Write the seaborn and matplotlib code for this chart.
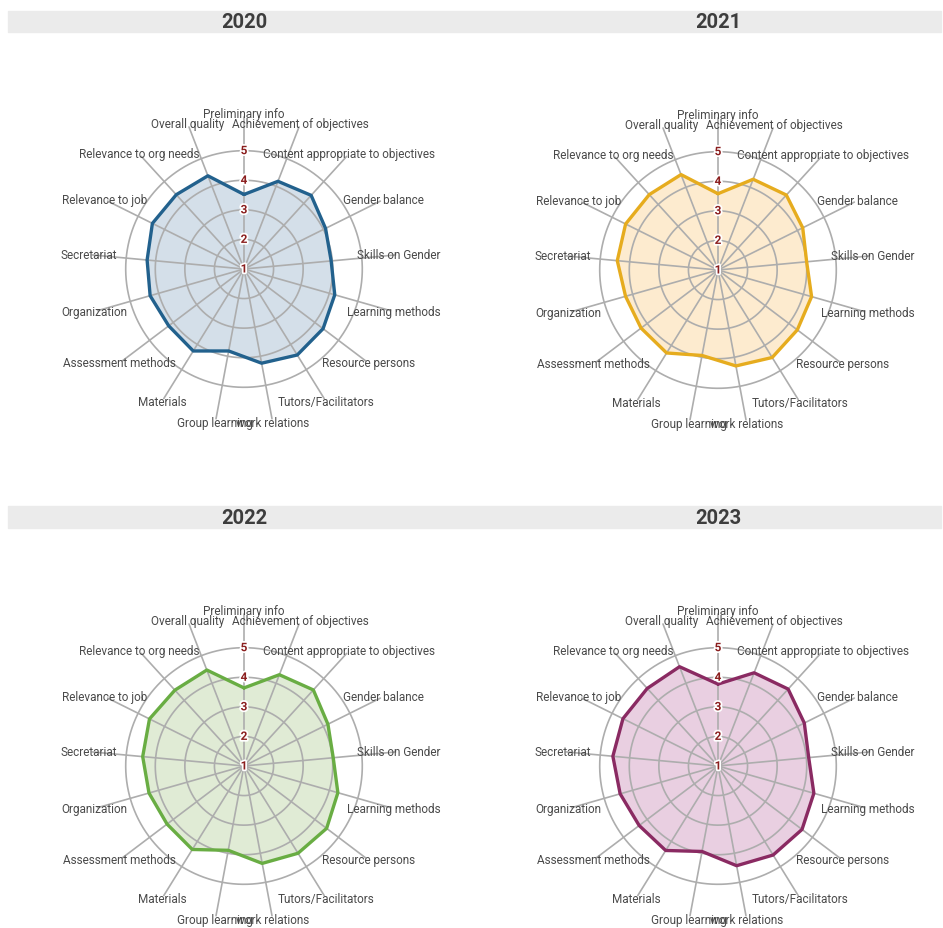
import numpy as np
import pandas as pd
import matplotlib
matplotlib.use('Agg')
import matplotlib.pyplot as plt
import matplotlib.patheffects as pe
from matplotlib.patches import Rectangle
import seaborn as sns

categories = ['Preliminary info', 'Achievement of objectives', 'Content appropriate to objectives',
              'Gender balance', 'Skills on Gender', 'Learning methods', 'Resource persons',
              'Tutors/Facilitators', 'work relations', 'Group learning', 'Materials',
              'Assessment methods', 'Organization', 'Secretariat', 'Relevance to job',
              'Relevance to org needs', 'Overall quality']

years = ['2020', '2021', '2022', '2023']
scores_2020 = [3.52, 4.18, 4.37, 4.08, 3.96, 4.19, 4.35, 4.42, 4.24, 3.82, 4.26, 4.19, 4.30, 4.29, 4.46, 4.40, 4.38]
scores_2021 = [3.58, 4.29, 4.43, 4.20, 4.01, 4.29, 4.36, 4.48, 4.30, 3.94, 4.30, 4.26, 4.25, 4.42, 4.49, 4.45, 4.46]
scores_2022 = [3.64, 4.31, 4.48, 4.17, 4.03, 4.30, 4.50, 4.47, 4.35, 3.90, 4.32, 4.26, 4.34, 4.44, 4.57, 4.47, 4.48]
scores_2023 = [3.77, 4.38, 4.52, 4.26, 4.08, 4.37, 4.56, 4.54, 4.43, 3.94, 4.36, 4.34, 4.44, 4.57, 4.59, 4.55, 4.60]
ring_values = [1, 2, 3, 4, 5]

line_colors = ['#22618d', '#e6ac1e', '#69ad43', '#8a2a62']
fill_colors = ['#d4dfe9', '#fdebcf', '#e0ebd5', '#e9cfe1']

sns.set_theme(style='white')
plt.rcParams['font.family'] = ['Roboto', 'DejaVu Sans']

fig = plt.figure(figsize=(9.43, 9.29), dpi=100)
W, H = 943, 929

# grey strip bands behind the year titles
for y0, y1 in [(12, 33), (507, 529)]:
    fig.patches.append(Rectangle((8 / W, 1 - y1 / H), (941 - 8) / W, (y1 - y0) / H,
                                 transform=fig.transFigure, color='#ebebeb', zorder=0))

centers = [(244, 270), (718, 271), (244, 767), (718, 767)]
title_y = [22, 22, 518, 518]
R = 118.3  # pixel radius of ring 5

all_scores = [scores_2020, scores_2021, scores_2022, scores_2023]
n = len(categories)
theta = np.arange(n) * 2 * np.pi / n
grid_col = '#adadad'

for k, year in enumerate(years):
    cx, cy = centers[k]
    ax = fig.add_axes([(cx - R) / W, 1 - (cy + R) / H, 2 * R / W, 2 * R / H], projection='polar')
    ax.set_theta_zero_location('N')
    ax.set_theta_direction(-1)
    ax.set_ylim(1, 5)
    ax.grid(False)
    ax.spines['polar'].set_visible(False)
    ax.patch.set_alpha(0)

    df = pd.DataFrame({'theta': np.append(theta, theta[0]),
                       'score': all_scores[k] + [all_scores[k][0]]})
    ax.fill(df['theta'], df['score'], color=fill_colors[k], zorder=1, lw=0)

    # circles and spokes
    tt = np.linspace(0, 2 * np.pi, 300)
    for v in ring_values[1:]:
        ax.plot(tt, np.full_like(tt, v), color=grid_col, lw=1.2, zorder=2, clip_on=False)
    for th in theta:
        ax.plot([th, th], [1, 6.15], color=grid_col, lw=1.2, zorder=2, clip_on=False)

    sns.lineplot(data=df, x='theta', y='score', ax=ax, sort=False, estimator=None,
                 color=line_colors[k], lw=2.4, zorder=3)
    ax.set_xlabel('')
    ax.set_ylabel('')
    ax.set_xticks([])
    ax.set_yticks([])
    ax.set_ylim(1, 5)

    for v in ring_values:
        ax.text(0, v, str(v), color='#8b1f1f', fontsize=8.5, fontweight='bold',
                ha='center', va='center', zorder=4,
                path_effects=[pe.withStroke(linewidth=2.5, foreground='white')])

    for th, lab in zip(theta, categories):
        ax.text(th, 6.27, lab, color='#4a4a4a', fontsize=8.5, ha='center', va='center',
                zorder=5, clip_on=False)

    fig.text(cx / W, 1 - title_y[k] / H, year, ha='center', va='center', fontsize=14.5,
             fontweight='bold', color='#3d3d3d')

fig.savefig('out.png', dpi=100)
